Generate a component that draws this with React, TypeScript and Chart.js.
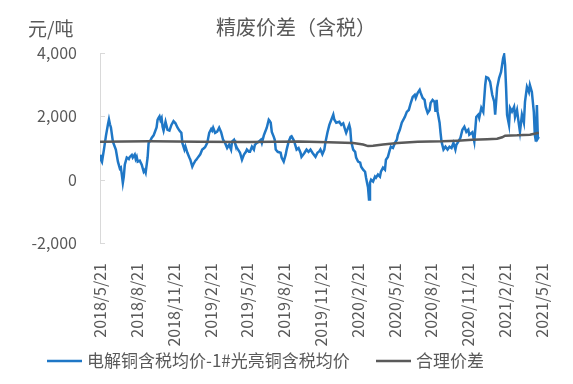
import React, { useEffect, useRef } from 'react';
import { Chart, registerables } from 'chart.js';

Chart.register(...registerables);

const chartTitle = '精废价差（含税）';
const unitLabel = '元/吨';
const seriesNames = ['电解铜含税均价-1#光亮铜含税均价', '合理价差'];
const xTickLabels = ['2018/5/21', '2018/8/21', '2018/11/21', '2019/2/21', '2019/5/21', '2019/8/21', '2019/11/21', '2020/2/21', '2020/5/21', '2020/8/21', '2020/11/21', '2021/2/21', '2021/5/21'];

// months elapsed since 2018/5/21
const spreadMonths = [
  0, 0.08, 0.16, 0.32, 0.49, 0.65, 0.73, 0.81, 0.89, 1.05,
  1.29, 1.46, 1.62, 1.70, 1.78, 1.86, 1.94, 2.02, 2.18, 2.35,
  2.43, 2.59, 2.67, 2.83, 2.91, 2.99, 3.07, 3.24, 3.40, 3.56,
  3.64, 3.72, 3.88, 3.96, 4.13, 4.21, 4.37, 4.45, 4.61, 4.69,
  4.77, 4.85, 4.93, 5.02, 5.10, 5.18, 5.34, 5.50, 5.66, 5.82,
  5.99, 6.15, 6.31, 6.47, 6.63, 6.71, 6.88, 6.96, 7.12, 7.28,
  7.36, 7.52, 7.60, 7.77, 7.85, 8.01, 8.17, 8.33, 8.49, 8.58,
  8.74, 8.90, 9.06, 9.14, 9.22, 9.38, 9.55, 9.71, 9.87, 10.03,
  10.19, 10.36, 10.52, 10.68, 10.76, 10.92, 11.00, 11.16, 11.33, 11.41,
  11.57, 11.73, 11.89, 11.97, 12.14, 12.22, 12.38, 12.54, 12.62, 12.78,
  12.94, 13.11, 13.19, 13.35, 13.43, 13.59, 13.75, 13.83, 13.91, 14.00,
  14.16, 14.24, 14.32, 14.48, 14.72, 14.80, 14.97, 15.13, 15.21, 15.37,
  15.53, 15.61, 15.78, 15.86, 16.02, 16.18, 16.34, 16.42, 16.58, 16.67,
  16.83, 16.99, 17.15, 17.31, 17.56, 17.72, 17.88, 17.96, 18.12, 18.28,
  18.36, 18.53, 18.69, 18.85, 19.01, 19.09, 19.25, 19.50, 19.66, 19.82,
  19.98, 20.06, 20.23, 20.31, 20.39, 20.47, 20.63, 20.79, 20.87, 21.03,
  21.20, 21.28, 21.44, 21.60, 21.68, 21.76, 21.84, 21.92, 22.00, 22.09,
  22.25, 22.41, 22.49, 22.65, 22.81, 22.89, 23.06, 23.22, 23.30, 23.46,
  23.62, 23.70, 23.87, 24.03, 24.19, 24.27, 24.43, 24.59, 24.84, 25.00,
  25.16, 25.32, 25.48, 25.65, 25.73, 25.89, 26.05, 26.13, 26.29, 26.45,
  26.54, 26.70, 26.86, 26.94, 27.10, 27.26, 27.34, 27.43, 27.51, 27.67,
  27.75, 27.83, 27.99, 28.15, 28.32, 28.48, 28.64, 28.80, 28.96, 29.04,
  29.20, 29.37, 29.53, 29.69, 29.85, 30.01, 30.09, 30.34, 30.50, 30.66,
  30.82, 30.90, 31.07, 31.23, 31.39, 31.47, 31.63, 31.79, 31.96, 32.12,
  32.20, 32.36, 32.52, 32.68, 32.85, 32.93, 33.01, 33.09, 33.17, 33.33,
  33.41, 33.57, 33.74, 33.82, 33.98, 34.14, 34.22, 34.38, 34.54, 34.63,
  34.79, 34.95, 35.03, 35.19, 35.35, 35.43, 35.52, 35.60, 35.68, 35.76,
];

// 电解铜含税均价-1#光亮铜含税均价 (元/吨)
const spreadValues = [
  790, 620, 560, 950, 1400, 1750, 1900, 1750, 1650, 1200,
  950, 570, 350, 380, 150, -100, 100, 470, 700, 650,
  720, 780, 700, 790, 650, 720, 570, 600, 470, 250,
  300, 220, 700, 1160, 1250, 1320, 1400, 1480, 1650, 1890,
  1950, 2000, 1880, 1950, 1670, 1550, 1830, 1575, 1550, 1730,
  1850, 1780, 1650, 1550, 1480, 1160, 950, 1050, 850, 700,
  630, 410, 480, 600, 630, 720, 800, 950, 1000, 1040,
  1160, 1480, 1600, 1550, 1640, 1480, 1520, 1640, 1500, 1260,
  1160, 1000, 1100, 950, 1200, 1260, 1150, 1000, 900, 850,
  630, 790, 880, 950, 880, 880, 1040, 950, 1100, 1160,
  1200, 1260, 1160, 1400, 1480, 1640, 1890, 1850, 1800, 1510,
  1350, 1260, 950, 880, 850, 700, 570, 790, 950, 1200,
  1350, 1370, 1250, 1160, 950, 1000, 850, 720, 800, 850,
  950, 880, 950, 850, 720, 850, 900, 950, 800, 950,
  1160, 1480, 1730, 1890, 2050, 1900, 1800, 1830, 1730, 1780,
  1575, 1480, 1650, 1730, 1600, 1200, 950, 880, 700, 570,
  540, 410, 315, 250, 60, -100, -250, -630, -100, 0,
  -60, 95, 60, 160, 95, 250, 380, 315, 630, 720,
  950, 1040, 1000, 1160, 1260, 1420, 1575, 1800, 1980, 2140,
  2200, 2420, 2610, 2680, 2580, 2740, 2835, 2740, 2580, 2520,
  2300, 2110, 2200, 2420, 2520, 2460, 2140, 2520, 2140, 1800,
  1480, 1200, 950, 1040, 950, 1040, 1000, 1160, 950, 1100,
  1200, 1320, 1575, 1670, 1510, 1580, 1420, 1500, 1200, 1980,
  2050, 1950, 2270, 2140, 2990, 3240, 3210, 3090, 2680, 2460,
  2050, 2900, 3210, 3400, 3840, 3940, 3620, 2900, 2050, 1730,
  2270, 2150, 2300, 1980, 2200, 1730, 1510, 2050, 1800, 2460,
  2930, 2770, 2990, 2770, 2140, 1420, 1200, 2360, 1300, 1350,
];

// 合理价差
const fairMonths = [0, 4.05, 8.09, 12.14, 16.18, 18.61, 20.63, 21.44, 21.84, 22.25, 23.06, 24.27, 25.89, 27.91, 29.12, 30.34, 31.55, 32.36, 32.77, 33.01, 33.98, 35.03, 35.76];
const fairValues = [1200, 1215, 1200, 1190, 1205, 1180, 1160, 1110, 1060, 1070, 1110, 1160, 1200, 1210, 1230, 1260, 1280, 1290, 1340, 1390, 1400, 1420, 1480];

const yMin = -2000;
const yMax = 4000;
const yStep = 2000;

const FONT = '"Noto Sans CJK SC", "Noto Sans", sans-serif';
const TEXT = '#595959';
const BLUE = '#1F77C6';
const GRAY = '#5A5A5A';
const AXIS = '#D9D9D9';

const decorPlugin = {
  id: 'decor',
  afterDraw(chart: any) {
    const ctx = chart.ctx;
    const area = chart.chartArea;
    const y = chart.scales.y;
    ctx.save();
    // inward tick marks on the value axis
    ctx.strokeStyle = AXIS;
    ctx.lineWidth = 1;
    y.ticks.forEach((t: any) => {
      const py = Math.round(y.getPixelForValue(t.value)) + 0.5;
      ctx.beginPath();
      ctx.moveTo(area.left, py);
      ctx.lineTo(area.left + 5, py);
      ctx.stroke();
    });
    // title and unit
    ctx.fillStyle = TEXT;
    ctx.textBaseline = 'middle';
    ctx.font = `20px ${FONT}`;
    ctx.textAlign = 'center';
    ctx.fillText(chartTitle, 296, 27);
    ctx.textAlign = 'left';
    ctx.font = `19px ${FONT}`;
    ctx.fillText(unitLabel, 28, 29);
    // legend
    const ly = 361;
    const items = [
      { color: BLUE, text: seriesNames[0], x: 47 },
      { color: GRAY, text: seriesNames[1], x: 376 },
    ];
    ctx.font = `17px ${FONT}`;
    items.forEach((it) => {
      ctx.strokeStyle = it.color;
      ctx.lineWidth = 2.5;
      ctx.beginPath();
      ctx.moveTo(it.x, ly);
      ctx.lineTo(it.x + 35, ly);
      ctx.stroke();
      ctx.fillStyle = TEXT;
      ctx.fillText(it.text, it.x + 40, ly);
    });
    ctx.restore();
  },
};

export default function App() {
  const ref = useRef<HTMLCanvasElement>(null);
  useEffect(() => {
    const spreadData = spreadMonths.map((m, i) => ({ x: m, y: spreadValues[i] }));
    const fairData = fairMonths.map((m, i) => ({ x: m, y: fairValues[i] }));
    const chart = new Chart(ref.current as HTMLCanvasElement, {
      type: 'line',
      data: {
        datasets: [
          { label: seriesNames[0], data: spreadData, borderColor: BLUE, backgroundColor: BLUE, borderWidth: 2.5, pointRadius: 0, tension: 0, order: 1 },
          { label: seriesNames[1], data: fairData, borderColor: GRAY, backgroundColor: GRAY, borderWidth: 2.5, pointRadius: 0, tension: 0, order: 0 },
        ],
      },
      options: {
        responsive: false,
        animation: false,
        events: [],
        layout: { padding: { top: 53, right: 28, left: 0, bottom: 0 } },
        plugins: { legend: { display: false }, title: { display: false }, tooltip: { enabled: false } },
        scales: {
          x: {
            type: 'linear',
            min: 0,
            max: 36,
            afterFit: (s: any) => { s.height = 141; },
            grid: { display: false },
            border: { display: false },
            ticks: {
              stepSize: 3,
              autoSkip: false,
              maxRotation: 90,
              minRotation: 90,
              padding: 12,
              color: TEXT,
              font: { family: FONT, size: 16 },
              callback: (v: any) => xTickLabels[Math.round(Number(v) / 3)] ?? '',
            },
          },
          y: {
            min: yMin,
            max: yMax,
            afterFit: (s: any) => { s.width = 100; },
            grid: { display: true, drawOnChartArea: false, drawTicks: false, color: 'rgba(0,0,0,0)' },
            border: { display: true, color: AXIS, width: 1 },
            ticks: {
              stepSize: yStep,
              padding: 23,
              color: TEXT,
              font: { family: FONT, size: 16 },
              callback: (v: any) => Number(v).toLocaleString('en-US'),
            },
          },
        },
      },
      plugins: [decorPlugin],
    } as any);
    return () => chart.destroy();
  }, []);
  return (
    <div style={{ position: 'fixed', left: 0, top: 0, width: 573, height: 384, background: '#fff' }}>
      <canvas ref={ref} width={573} height={384} style={{ display: 'block' }} />
    </div>
  );
}
